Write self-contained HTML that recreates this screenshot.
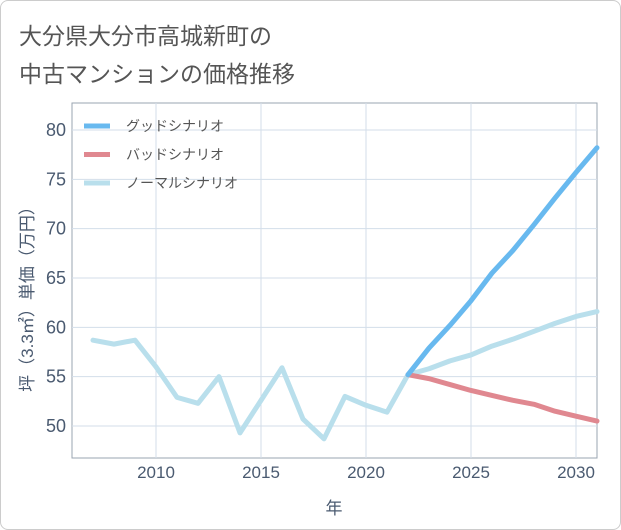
<!DOCTYPE html>
<html><head><meta charset="utf-8"><style>
body{margin:0;background:#fff;font-family:"Liberation Sans","Noto Sans CJK JP",sans-serif}
#wrap{position:relative;width:619px;height:528px;border:1px solid #ccc;border-radius:8px;background:#fff}
.t{position:absolute;left:18px;font-size:23px;color:#555}
</style></head><body>
<div id="wrap">
<div class="t" style="top:16px">大分県大分市高城新町の</div>
<div class="t" style="top:54px">中古マンションの価格推移</div>
<svg id="c" width="621" height="530" style="position:absolute;left:-1px;top:-1px"></svg>
</div>
<script>
const years=[2007,2008,2009,2010,2011,2012,2013,2014,2015,2016,2017,2018,2019,2020,2021,2022,2023,2024,2025,2026,2027,2028,2029,2030,2031];
const normal=[58.7,58.3,58.7,56,52.9,52.3,55,49.3,52.6,55.9,50.7,48.7,53,52.1,51.4,55.2,55.8,56.6,57.2,58.1,58.8,59.6,60.4,61.1,61.6];
const goodYears=[2022,2023,2024,2025,2026,2027,2028,2029,2030,2031];
const good=[55.2,57.9,60.2,62.7,65.5,67.8,70.4,73.1,75.7,78.2];
const bad=[55.2,54.8,54.2,53.6,53.1,52.6,52.2,51.5,51.0,50.5];
const xTicks=[2010,2015,2020,2025,2030];
const yTicks=[50,55,60,65,70,75,80];
const L=72,R=597,T=103,B=458;
const x=v=>156+(v-2010)*(576-156)/20;
const y=v=>426-(v-50)*(426-130)/30;
const s=document.getElementById('c'),NS='http://www.w3.org/2000/svg';
function mk(t,a,n,txt){const e=document.createElementNS(NS,t);for(const k in a)e.setAttribute(k,a[k]);


if(txt!==undefined)e.textContent=txt;s.appendChild(e);return e;}
mk('rect',{x:L,y:T,width:R-L,height:B-T,fill:'#fff',stroke:'#9aa4b0','stroke-width':1},'plot-area');
xTicks.forEach(v=>{mk('line',{x1:x(v),x2:x(v),y1:T,y2:B,stroke:'#d3deea'},'x-grid-'+v);
mk('text',{x:x(v),y:478,'text-anchor':'middle','font-size':17,fill:'#4a5a70'},'x-tick-'+v,v);});
yTicks.forEach(v=>{mk('line',{x1:L,x2:R,y1:y(v),y2:y(v),stroke:'#d3deea'},'y-grid-'+v);
mk('text',{x:66,y:y(v)+6,'text-anchor':'end','font-size':18,fill:'#4a5a70'},'y-tick-'+v,v);});
mk('text',{x:334,y:514,'text-anchor':'middle','font-size':17,fill:'#4a5a70'},'x-axis-title','年');
mk('text',{x:0,y:0,'text-anchor':'middle','font-size':17,fill:'#4a5a70',transform:'translate(33,295) rotate(-90)'},'y-axis-title','坪（3.3㎡）単価（万円）');
function line(xs,vs,c,n){mk('polyline',{points:xs.map((yr,i)=>x(yr)+','+y(vs[i])).join(' '),fill:'none',stroke:c,'stroke-width':5,'stroke-linejoin':'round','stroke-linecap':'round'},n);}
line(years,normal,'#b9dfec','normal-line');
line(goodYears,bad,'#e08890','bad-line');
line(goodYears,good,'#68b9ef','good-line');
[['#68b9ef','グッドシナリオ'],['#e08890','バッドシナリオ'],['#b9dfec','ノーマルシナリオ']].forEach((d,i)=>{
const yy=126+i*28.5;
mk('line',{x1:84,x2:110,y1:yy,y2:yy,stroke:d[0],'stroke-width':5},'legend-swatch-'+i);
mk('text',{x:126,y:yy+5,'font-size':14,fill:'#555'},'legend-label-'+i,d[1]);});
</script>
</body></html>
